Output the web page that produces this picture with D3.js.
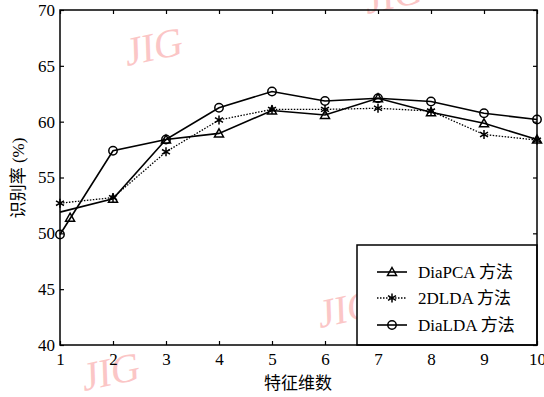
<!DOCTYPE html>
<html>
<head>
<meta charset="utf-8">
<script src="https://cdn.jsdelivr.net/npm/d3@7"></script>
<style>
body { margin: 0; background: #fff; }
text { font-family: "Liberation Serif", "Times New Roman", "Noto Sans CJK SC", serif; }
</style>
</head>
<body>
<svg id="chart" width="544" height="397"></svg>
<script>
var dims = [1, 2, 3, 4, 5, 6, 7, 8, 9, 10];
var diaPCA = [51.9, 53.1, 58.4, 58.95, 61.0, 60.6, 62.1, 60.85, 59.85, 58.4];
var lda2d = [52.7, 53.2, 57.3, 60.15, 61.1, 61.1, 61.2, 60.95, 58.85, 58.35];
var diaLDA = [49.9, 57.4, 58.4, 61.25, 62.7, 61.85, 62.1, 61.8, 60.75, 60.2];
// stray triangle drawn near x=1 in the original figure
var pcaStray = [{x: 1.19, y: 51.4}];
var yTicks = [40, 45, 50, 55, 60, 65, 70];
var legendNames = ["DiaPCA 方法", "2DLDA 方法", "DiaLDA 方法"];

var xScaled = d3.scaleLinear().domain([1, 10]).range([60, 537]);
var yScaled = d3.scaleLinear().domain([40, 70]).range([345, 10]);

var svg = d3.select("#chart");

// watermarks
var marks = [[155, 60], [395, 8], [348, 322], [112, 385]];
svg.selectAll(".wm").data(marks).enter().append("text")
    .attr("class", "wm")
    .attr("transform", function(d) { return "translate(" + d[0] + "," + d[1] + ") rotate(-12) skewX(-10)"; })
    .attr("text-anchor", "middle")
    .attr("font-size", 40)
    .attr("fill", "#fbc6c6")
    .text("JIG");

var xAxes = d3.axisBottom(xScaled).tickValues(dims).tickSize(-4).tickPadding(8).tickFormat(d3.format("d"));
var yAxes = d3.axisLeft(yScaled).tickValues(yTicks).tickSize(-4).tickPadding(5);
var xTop = d3.axisTop(xScaled).tickValues(dims).tickSize(-4).tickFormat("");
var yRight = d3.axisRight(yScaled).tickValues(yTicks).tickSize(-4).tickFormat("");

function styleAxis(g) {
    g.select(".domain").remove();
    g.selectAll("line").attr("stroke", "#000").attr("stroke-width", 1.2);
    g.selectAll("text").attr("font-size", 17).attr("fill", "#000")
        .attr("font-family", "Liberation Serif, serif");
}

svg.append("g").attr("transform", "translate(0,345)").call(xAxes).call(styleAxis);
svg.append("g").attr("transform", "translate(60,0)").call(yAxes).call(styleAxis);
svg.append("g").attr("transform", "translate(0,10)").call(xTop).call(styleAxis);
svg.append("g").attr("transform", "translate(537,0)").call(yRight).call(styleAxis);

var line = d3.line()
    .x(function(d, i) { return xScaled(dims[i]); })
    .y(function(d) { return yScaled(d); });

var series = [
    {vals: diaPCA, dash: null, mark: "tri"},
    {vals: lda2d, dash: "1.5,1.5", mark: "star"},
    {vals: diaLDA, dash: null, mark: "circ"}
];

var triPath = "M0,-4.5L4.5,3.5L-4.5,3.5Z";
var starPath = "M0,-4.5V4.5M-4,-2.3L4,2.3M-4,2.3L4,-2.3";

function drawMark(g, type, x, y) {
    if (type === "circ") {
        g.append("circle").attr("cx", x).attr("cy", y).attr("r", 4.2)
            .attr("fill", "none").attr("stroke", "#000").attr("stroke-width", 1.5);
    } else {
        g.append("path").attr("d", type === "tri" ? triPath : starPath)
            .attr("transform", "translate(" + x + "," + y + ")")
            .attr("fill", "none").attr("stroke", "#000").attr("stroke-width", 1.5);
    }
}

series.forEach(function(s) {
    svg.append("path").datum(s.vals)
        .attr("d", line)
        .attr("fill", "none")
        .attr("stroke", "#000")
        .attr("stroke-width", s.dash ? 1.3 : 1.6)
        .attr("stroke-dasharray", s.dash);
    var g = svg.append("g");
    s.vals.forEach(function(v, i) {
        if (s.mark === "tri" && i === 0) return;
        drawMark(g, s.mark, xScaled(dims[i]), yScaled(v));
    });
});
pcaStray.forEach(function(p) {
    drawMark(svg.append("g"), "tri", xScaled(p.x), yScaled(p.y));
});

// legend
var leg = svg.append("g");
leg.append("rect").attr("x", 357).attr("y", 245).attr("width", 180).attr("height", 100)
    .attr("fill", "#fff").attr("stroke", "#000").attr("stroke-width", 1.5);
var rowsY = [272, 298, 325];
series.forEach(function(s, i) {
    leg.append("line").attr("x1", 377).attr("x2", 407).attr("y1", rowsY[i]).attr("y2", rowsY[i])
        .attr("stroke", "#000").attr("stroke-width", s.dash ? 1.3 : 1.6)
        .attr("stroke-dasharray", s.dash);
    drawMark(leg, s.mark, 392, rowsY[i]);
    leg.append("text").attr("x", 418).attr("y", rowsY[i] + 6)
        .attr("font-size", 17).text(legendNames[i]);
});

// frame
svg.append("rect").attr("x", 60).attr("y", 10).attr("width", 477).attr("height", 335)
    .attr("fill", "none").attr("stroke", "#000").attr("stroke-width", 1.5);

svg.append("text").attr("x", 298).attr("y", 389).attr("text-anchor", "middle")
    .attr("font-size", 17).text("特征维数");
svg.append("text").attr("transform", "translate(24,178) rotate(-90)")
    .attr("text-anchor", "middle").attr("font-size", 17).text("识别率 (%)");
</script>
</body>
</html>
